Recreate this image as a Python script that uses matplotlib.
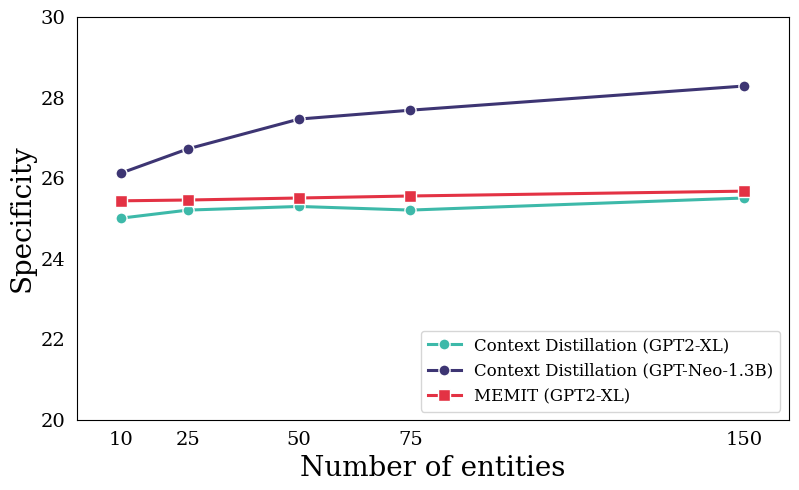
import matplotlib
matplotlib.use("Agg")
import matplotlib.pyplot as plt

entities = [10, 25, 50, 75, 150]
cd_gpt2xl = [25.01, 25.21, 25.30, 25.21, 25.51]
cd_neo = [26.13, 26.73, 27.47, 27.69, 28.29]
memit_gpt2xl = [25.44, 25.46, 25.51, 25.56, 25.68]

plt.rcParams['font.family'] = ['DejaVu Serif']

fig = plt.figure(figsize=(7.99, 4.9), dpi=100)
ax = fig.add_axes([0.096, 0.143, 0.891, 0.822])

ax.plot(entities, cd_gpt2xl, color="#3db9a9", lw=2.2, marker="o", ms=8,
        mec="white", mew=1, label="Context Distillation (GPT2-XL)")
ax.plot(entities, cd_neo, color="#3d3573", lw=2.2, marker="o", ms=8,
        mec="white", mew=1, label="Context Distillation (GPT-Neo-1.3B)")
ax.plot(entities, memit_gpt2xl, color="#e33244", lw=2.2, marker="s", ms=8,
        mec="white", mew=1, label="MEMIT (GPT2-XL)")

ax.set_xlim(0, 160)
ax.set_ylim(20, 30)
ax.set_xticks(entities)
ax.set_yticks([20, 22, 24, 26, 28, 30])
ax.tick_params(labelsize=14, length=0, pad=8)
ax.set_xlabel("Number of entities", fontsize=20)
ax.set_ylabel("Specificity", fontsize=20)
leg = ax.legend(loc="lower right", fontsize=12, frameon=True, fancybox=True)
leg.get_frame().set_edgecolor("#cccccc")

fig.savefig("out.png", dpi=100)
